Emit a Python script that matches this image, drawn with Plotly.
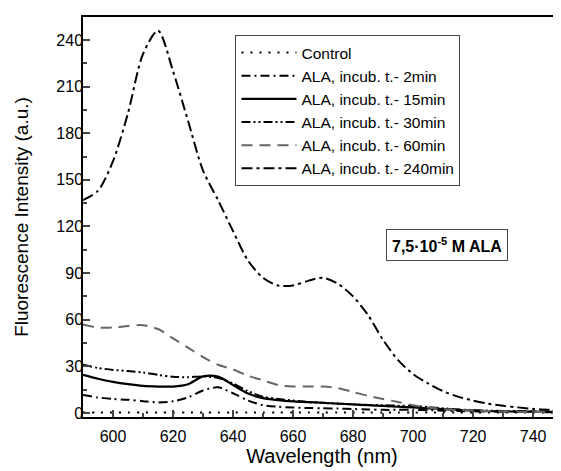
import plotly.graph_objects as go

wavelength = [590, 595, 600, 605, 610, 615, 620, 625, 630, 635, 640, 645, 650, 655, 660, 665,
              670, 675, 680, 685, 690, 695, 700, 705, 710, 715, 720, 725, 730, 735, 740, 745, 750]

control = [0.3] * 33
min2 = [11.6, 10.0, 9.0, 8.5, 7.6, 6.8, 7.5, 10.0, 14.5, 16.5, 12.7, 8.0, 5.0, 4.0, 3.5, 3.2,
        3.0, 2.8, 2.5, 2.3, 2.0, 2.0, 2.0, 1.8, 1.5, 1.2, 1.0, 0.9, 0.8, 0.7, 0.6, 0.6, 0.5]
min15 = [24.5, 22.0, 20.0, 18.5, 17.4, 17.0, 17.0, 18.5, 23.5, 23.4, 18.0, 12.5, 9.5, 8.3, 7.5, 7.0,
         6.5, 6.0, 5.5, 5.0, 4.5, 4.0, 3.5, 3.0, 2.5, 2.0, 1.5, 1.2, 1.0, 0.9, 0.8, 0.6, 0.5]
min30 = [31.0, 29.0, 27.7, 27.0, 26.0, 24.5, 23.3, 23.0, 23.5, 22.5, 19.0, 14.0, 10.5, 9.0, 8.0, 7.0,
         6.5, 6.0, 5.5, 5.2, 5.0, 4.7, 4.5, 3.8, 3.0, 2.3, 1.8, 1.5, 1.3, 1.2, 1.0, 1.0, 1.0]
min60 = [57.0, 55.0, 55.0, 56.0, 56.5, 54.0, 48.0, 42.0, 36.0, 31.0, 28.0, 24.0, 21.0, 18.0, 17.0, 17.0,
         17.0, 16.0, 13.5, 11.0, 9.0, 7.0, 5.0, 3.5, 2.5, 2.0, 1.5, 1.2, 1.0, 0.8, 0.6, 0.5, 0.5]
min240 = [137, 143, 162, 193, 231, 246, 220, 188, 156, 137, 117, 98, 87, 82, 82, 85,
          87, 83, 75, 63, 47, 34, 25, 19, 14, 10.5, 8.0, 6.0, 4.6, 3.6, 2.6, 2.0, 1.5]

names = ["Control", "ALA, incub. t.- 2min", "ALA, incub. t.- 15min",
         "ALA, incub. t.- 30min", "ALA, incub. t.- 60min", "ALA, incub. t.- 240min"]
series = [control, min2, min15, min30, min60, min240]
styles = [
    dict(color="black", width=2, dash="2px,7px"),
    dict(color="black", width=2, dash="9px,4px,2px,4px"),
    dict(color="black", width=2.2, dash="solid"),
    dict(color="black", width=2, dash="9px,3px,2px,3px,2px,3px"),
    dict(color="#666666", width=2, dash="11px,7px"),
    dict(color="black", width=2, dash="11px,4px,3px,4px"),
]

fig = go.Figure()
for name, ys, st in zip(names, series, styles):
    fig.add_trace(go.Scatter(x=wavelength, y=ys, mode="lines", name=name,
                             line=dict(shape="spline", smoothing=0.8, **st)))

font = "Arial, Liberation Sans, sans-serif"
fig.update_layout(
    width=553, height=463,
    margin=dict(l=75, r=0, t=9, b=54),
    paper_bgcolor="white", plot_bgcolor="white",
    font=dict(family=font, color="black", size=16),
    showlegend=True,
    legend=dict(x=0.319, y=0.955, xanchor="left", yanchor="top",
                bgcolor="white", bordercolor="#444444", borderwidth=1,
                font=dict(size=15.5, family=font), itemwidth=55,
                tracegroupgap=0),
    xaxis=dict(range=[590, 749.3], tick0=600, dtick=20, ticks="inside", ticklen=7,
               tickwidth=1.5, showline=True, linewidth=1.5, linecolor="black", mirror=True,
               showgrid=False, zeroline=False, tickfont=dict(size=16), automargin=False,
               ticklabelstandoff=4,
               minor=dict(dtick=10, ticks="inside", ticklen=4, tickwidth=1.5),
               title=dict(text="Wavelength (nm)", font=dict(size=20), standoff=1)),
    yaxis=dict(range=[-2.6, 254.8], tick0=0, dtick=30, ticks="inside", ticklen=7,
               tickwidth=1.5, showline=True, linewidth=1.5, linecolor="black",
               showgrid=False, zeroline=False, tickfont=dict(size=16), automargin=False,
               ticklabelstandoff=-5,
               minor=dict(dtick=15, ticks="inside", ticklen=4, tickwidth=1.5),
               title=dict(text="Fluorescence Intensity (a.u.)", font=dict(size=19), standoff=23)),
)

fig.add_annotation(
    x=(447 - 83) / 478, y=(417 - 245) / 400, xref="paper", yref="paper",
    text="<b>7,5·10<sup>-5</sup> M ALA</b>", showarrow=False,
    font=dict(size=16, family=font, color="black"),
    bordercolor="#444444", borderwidth=1, borderpad=5, bgcolor="white",
    xanchor="center", yanchor="middle")

fig.write_html("out.html")
